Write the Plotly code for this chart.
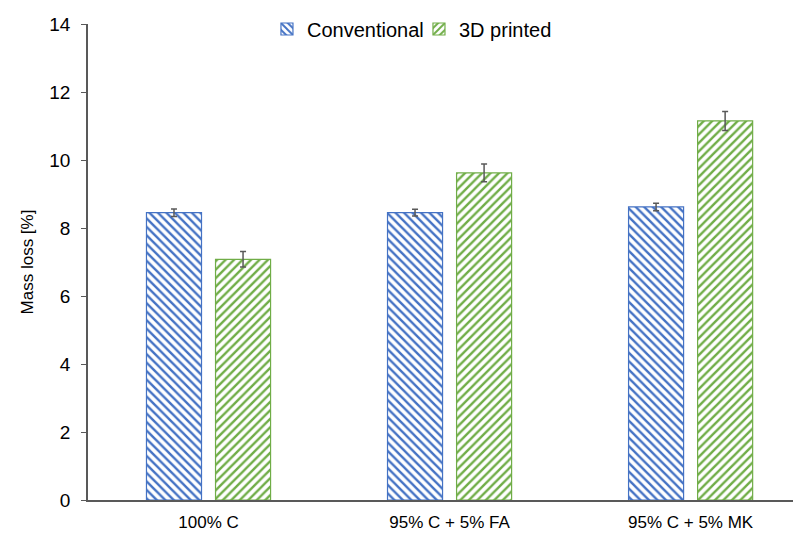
import plotly.graph_objects as go

categories = ["100% C", "95% C + 5% FA", "95% C + 5% MK"]
conventional = [8.45, 8.45, 8.62]
conventional_err = [0.11, 0.10, 0.11]
printed = [7.08, 9.62, 11.15]
printed_err = [0.23, 0.26, 0.28]
y_ticks = [0, 2, 4, 6, 8, 10, 12, 14]

BLUE = "#4472C4"
GREEN = "#70AD47"
GRAY = "#595959"

fig = go.Figure()
fig.add_trace(go.Bar(
    name="Conventional", x=categories, y=conventional, legend="legend",
    marker=dict(color="white", line=dict(color=BLUE, width=1.2),
                pattern=dict(shape="\\", fgcolor=BLUE, bgcolor="white", fgopacity=1,
                             size=6, solidity=0.4)),
    error_y=dict(type="data", array=conventional_err, color=GRAY, thickness=1.5, width=3),
))
fig.add_trace(go.Bar(
    name="3D printed", x=categories, y=printed, legend="legend2",
    marker=dict(color="white", line=dict(color=GREEN, width=1.2),
                pattern=dict(shape="/", fgcolor=GREEN, bgcolor="white", fgopacity=1,
                             size=6, solidity=0.4)),
    error_y=dict(type="data", array=printed_err, color=GRAY, thickness=1.5, width=3),
))

leg_common = dict(orientation="h", y=0.9895, yanchor="middle", xanchor="left",
                  font=dict(size=20), itemwidth=30, bgcolor="rgba(0,0,0,0)")
fig.update_layout(
    width=801, height=533,
    margin=dict(l=80, r=8, t=16, b=41, autoexpand=False),
    paper_bgcolor="white", plot_bgcolor="white",
    font=dict(family="Liberation Sans, Arial, sans-serif", size=17, color="black"),
    barmode="group", bargap=0.427, bargroupgap=0.203,
    legend=dict(x=0.251, **leg_common),
    legend2=dict(x=0.4642, **leg_common),
    showlegend=True,
)
fig.update_xaxes(
    range=[-0.5, 2.458], showline=True, linecolor=GRAY, linewidth=1.5,
    ticks="", showgrid=False, tickfont=dict(size=17), ticklabelstandoff=6,
)
fig.update_yaxes(
    range=[0, 14], tickvals=y_ticks, showline=True, linecolor=GRAY, linewidth=1.5,
    ticks="outside", ticklen=5, tickcolor=GRAY, showgrid=False, zeroline=False,
    tickfont=dict(size=19), ticklabelstandoff=7,
    title=dict(text="Mass loss [%]", font=dict(size=17), standoff=11),
)

fig.write_html("out.html")
